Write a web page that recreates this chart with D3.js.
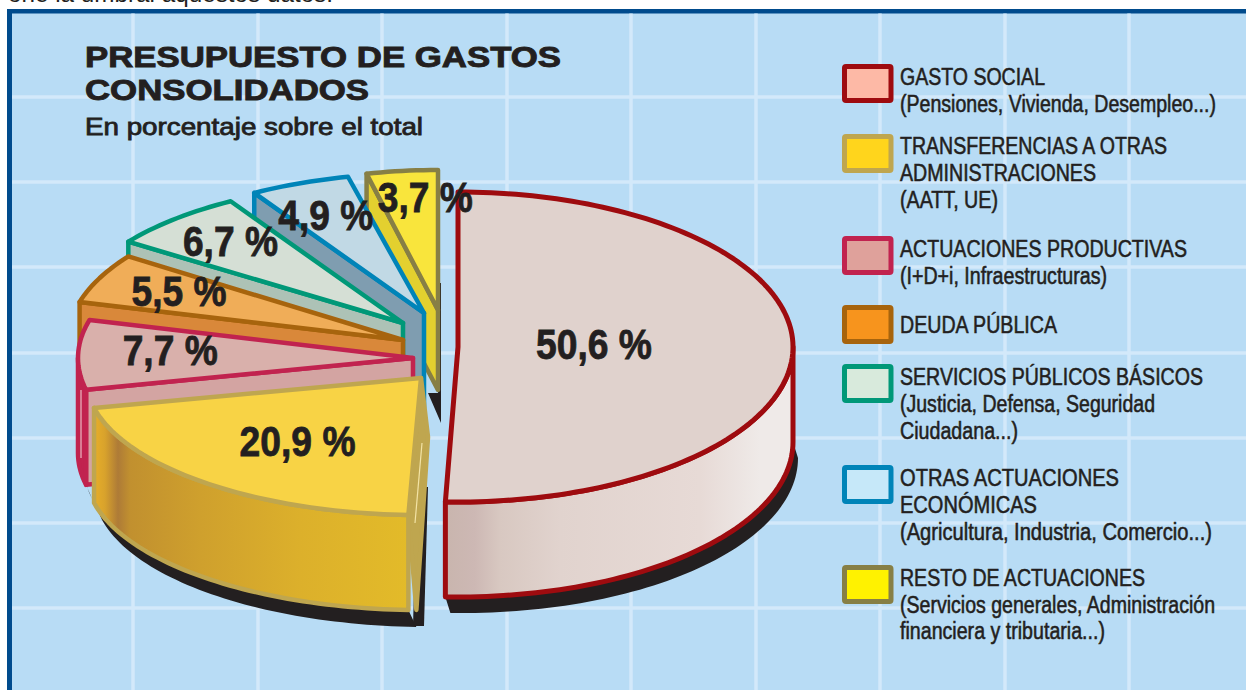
<!DOCTYPE html>
<html>
<head>
<meta charset="utf-8">
<style>
  html, body { margin: 0; padding: 0; background: #fff; overflow: hidden; }
  svg { display: block; }
  text { fill: #231f20; font-family: "Liberation Sans", Arial, sans-serif; }
</style>
<script src="https://cdn.jsdelivr.net/npm/d3@7"></script>
</head>
<body>
<svg id="chart" width="1246" height="690"></svg>
<script>
// slice values, clockwise from 12 o'clock
const categories = ["Gasto social", "Transferencias", "Actuaciones productivas", "Deuda pública",
    "Servicios públicos básicos", "Otras actuaciones económicas", "Resto de actuaciones"];
const values = [50.6, 20.9, 7.7, 5.5, 6.7, 4.9, 3.7];

const topFill = ["#e0d2cd", "#f8d345", "#d9b0ab", "#f0ad58", "#d5dfd5", "#c1d9e5", "#f9e53c"];
const cutFill = ["#e0d2cd", "#bfa64f", "#d3a4a2", "#d9883a", "#adc2b6", "#7f9db0", "#e3d02f"];
const wallFill = ["url(#wall0)", "url(#wall1)", "#c1234f", "#d9883a", "#adc2b6", "#7f9db0", "#e3d02f"];
const edgeColor = ["#9e0b0f", "#bfa64f", "#c1234f", "#a7640d", "#009878", "#0084b8", "#877f45"];
const legendFill = ["#fdb9a6", "#ffd51c", "#dfa19b", "#f7941d", "#d8eadc", "#c6e8f9", "#fff200"];

const legendLines = [
    ["GASTO SOCIAL", "(Pensiones, Vivienda, Desempleo...)"],
    ["TRANSFERENCIAS A OTRAS", "ADMINISTRACIONES", "(AATT, UE)"],
    ["ACTUACIONES PRODUCTIVAS", "(I+D+i, Infraestructuras)"],
    ["DEUDA PÚBLICA"],
    ["SERVICIOS PÚBLICOS BÁSICOS", "(Justicia, Defensa, Seguridad", "Ciudadana...)"],
    ["OTRAS ACTUACIONES", "ECONÓMICAS", "(Agricultura, Industria, Comercio...)"],
    ["RESTO DE ACTUACIONES", "(Servicios generales, Administración", "financiera y tributaria...)"]
];
const legendWidths = [[145, 316], [267, 196, 98], [287, 207], [157], [303, 255, 118], [219, 137, 312], [245, 315, 205]];
const legendBaselines = [[85, 112], [154, 181, 208], [257, 284], [333], [385, 412, 439], [486, 513, 540], [586, 613, 639]];
const legendBoxTop = [64, 134, 236, 305, 364, 465, 565];

// where each exploded slice sits
const apexX = [458, 421, 413, 403, 403, 424, 438];
const apexY = [347, 378, 358, 340, 323, 313, 310];
const radiusX = [335, 335, 335, 335, 335, 330, 310];
const radiusY = [155, 137, 146, 146, 142, 140, 140];
const depth = [95, 95, 95, 95, 95, 95, 80];
const edgeWidth = [5, 4.5, 4.5, 4.5, 4.5, 4.5, 4.5];

// label placement along each slice's middle angle
const labelRadius = [0.406, 0.59, 0.725, 0.738, 0.755, 0.766, 0.8];
const labelDx = [0, 3, 0, 0, 0, -3, 16];
const labelDy = [-4, 1, -6, -3, -4, 1, -2];
const labelWidth = [116, 116, 95, 95, 95, 95, 95];

const gridX = [133, 258, 382, 507, 631, 756, 880, 1005, 1129];
const gridY = [97, 182, 267, 353, 438, 523, 608];

const svg = d3.select("#chart");
const W = 1246, H = 690;

// backdrop
svg.append("rect").attr("x", 7).attr("y", 9).attr("width", W - 7).attr("height", H - 9).attr("fill", "#004b8d");
svg.append("rect").attr("x", 12).attr("y", 13.5).attr("width", W - 12).attr("height", H - 13.5).attr("fill", "#b8dcf5");
svg.selectAll(".gx").data(gridX).enter().append("line")
    .attr("x1", d => d).attr("x2", d => d).attr("y1", 13.5).attr("y2", H)
    .attr("stroke", "#d3e9fa").attr("stroke-width", 3.5);
svg.selectAll(".gy").data(gridY).enter().append("line")
    .attr("x1", 12).attr("x2", W).attr("y1", d => d).attr("y2", d => d)
    .attr("stroke", "#d3e9fa").attr("stroke-width", 3.5);

// clipped line of running text above the box
svg.append("text").attr("x", 8).attr("y", 2).attr("font-size", 23)
    .attr("textLength", 325).attr("lengthAdjust", "spacingAndGlyphs")
    .text("one la umbral aquestos datos.");

// banded gradients for the curved walls
const defs = svg.append("defs");
function addGradient(id, stops) {
    const g = defs.append("linearGradient").attr("id", id)
        .attr("gradientUnits", "userSpaceOnUse")
        .attr("x1", stops[0][0]).attr("x2", stops[stops.length - 1][0]).attr("y1", 0).attr("y2", 0);
    const x0 = stops[0][0], span = stops[stops.length - 1][0] - x0;
    stops.forEach(s => g.append("stop").attr("offset", (s[0] - x0) / span).attr("stop-color", s[1]));
}
addGradient("wall0", [[447, "#c9b5ae"], [475, "#cdb8b4"], [500, "#d8c8c1"], [560, "#e1d3ce"], [700, "#e7dad6"], [760, "#efeae8"], [795, "#efeae8"]]);
addGradient("wall1", [[97, "#e3ab2a"], [105, "#d8a22c"], [118, "#ae7b37"], [130, "#c1902f"], [200, "#cfa02d"], [300, "#dcb02b"], [410, "#e3bb29"]]);

const pie = d3.pie().sort(null).value(d => d).startAngle(0).endAngle(2 * Math.PI);
const arcs = pie(values);
const line = d3.line();

function point(i, a, r = 1, drop = 0) {
    return [apexX[i] + radiusX[i] * r * Math.sin(a), apexY[i] - radiusY[i] * r * Math.cos(a) + drop];
}
function arcPoints(i, a0, a1, drop = 0, dx = 0, dy = 0) {
    const n = Math.max(2, Math.ceil(Math.abs(a1 - a0) * 40));
    return d3.range(n + 1).map(k => {
        const p = point(i, a0 + (a1 - a0) * k / n, 1, drop);
        return [p[0] + dx, p[1] + dy];
    });
}
const HALF = Math.PI / 2;

function drawWallShadow(i, a0, a1, dx, dy) {
    const d = depth[i];
    const pts = arcPoints(i, a0, a1, d, dx, dy).concat(arcPoints(i, a1, a0, d));
    svg.append("path").attr("d", line(pts) + "Z").attr("fill", "#231f20");
}

// back to front, the big slice goes last
d3.range(values.length - 1, -1, -1).forEach(i => {
    const s = arcs[i];
    const apex = [apexX[i], apexY[i]];
    const d = depth[i];

    // shadows on the table
    if (i === 0) drawWallShadow(0, HALF, s.endAngle, 5, 16);
    if (i === 1) {
        drawWallShadow(1, s.startAngle, s.endAngle, 8, 17);
        svg.append("path").attr("fill", "#231f20").attr("d", line([
            [apex[0] + 7, apex[1] + 109], [apex[0] + 3, apex[1] + 248], [apex[0] - 8, apex[1] + 248], [apex[0] - 4, apex[1] + 109]
        ]) + "Z");
    }
    if (i === 2) drawWallShadow(2, s.startAngle, s.startAngle + 0.14, 6, 14);
    if (i === 6) {
        svg.append("path").attr("fill", "#231f20").attr("d", line([
            [apex[0] + 3, apex[1] - 27], [apex[0] + 3, apex[1] + 113], [apex[0] - 10, apex[1] + 83], [apex[0], apex[1] + 83], [apex[0], apex[1] - 27]
        ]) + "Z");
    }

    // radial cut face on the lower edge of the slice
    if (i > 0) {
        const corner = point(i, s.startAngle);
        let cut = [apex, corner, [corner[0], corner[1] + d], [apex[0], apex[1] + d]];
        if (i === 1) cut = [apex, corner, [corner[0] + 8, corner[1] + d], [apex[0] + 7, apex[1] + 59]];
        svg.append("path").attr("d", line(cut) + "Z")
            .attr("fill", cutFill[i]).attr("stroke", edgeColor[i]).attr("stroke-width", edgeWidth[i]).attr("stroke-linejoin", "round");
    }

    // curved wall, only the part facing us
    const w0 = Math.max(s.startAngle, HALF), w1 = Math.min(s.endAngle, 3 * HALF);
    if (w1 > w0) {
        const wall = arcPoints(i, w0, w1).concat(arcPoints(i, w1, w0, d));
        svg.append("path").attr("d", line(wall) + "Z")
            .attr("fill", wallFill[i])
            .attr("stroke", edgeColor[i]).attr("stroke-width", edgeWidth[i]).attr("stroke-linejoin", "round");
    }

    // top face
    const top = [apex].concat(arcPoints(i, s.startAngle, s.endAngle));
    svg.append("path").attr("d", line(top) + "Z")
        .attr("fill", topFill[i]).attr("stroke", edgeColor[i]).attr("stroke-width", edgeWidth[i]).attr("stroke-linejoin", "round");

    // thin light highlights on the pink wall and the yellow band
    if (i === 2) {
        svg.append("line").attr("stroke", "#f2d6d8").attr("stroke-width", 1)
            .attr("x1", apex[0] - 332).attr("x2", apex[0] - 332)
            .attr("y1", apex[1] + 32).attr("y2", apex[1] + 100);
    }
    if (i === 1) {
        svg.append("line").attr("stroke", "#f3e3a5").attr("stroke-width", 1.2)
            .attr("x1", apex[0] + 1).attr("x2", apex[0] - 6)
            .attr("y1", apex[1] + 65).attr("y2", apex[1] + 145);
    }
});

// percentage labels sit over everything
arcs.forEach((s, i) => {
    const p = point(i, (s.startAngle + s.endAngle) / 2, labelRadius[i]);
    svg.append("text")
        .attr("x", p[0] + labelDx[i] - labelWidth[i] / 2)
        .attr("y", p[1] + labelDy[i] + 15)
        .attr("font-size", 42).attr("font-weight", "bold")
        .attr("textLength", labelWidth[i]).attr("lengthAdjust", "spacingAndGlyphs")
        .attr("stroke", "#231f20").attr("stroke-width", 0.8)
        .text(`${String(s.data.toFixed(1)).replace(".", ",")} %`);
});

// title block
const titleLines = ["PRESUPUESTO DE GASTOS", "CONSOLIDADOS"];
svg.selectAll(".title").data(titleLines).enter().append("text")
    .attr("x", 85).attr("y", (d, i) => 67 + i * 33)
    .attr("font-size", 29).attr("font-weight", "bold")
    .attr("textLength", (d, i) => [476, 284][i]).attr("lengthAdjust", "spacingAndGlyphs")
    .attr("stroke", "#231f20").attr("stroke-width", 0.9)
    .text(d => d);
svg.append("text").attr("x", 85).attr("y", 135).attr("font-size", 23)
    .attr("textLength", 338).attr("lengthAdjust", "spacingAndGlyphs")
    .attr("stroke", "#231f20").attr("stroke-width", 0.8)
    .text("En porcentaje sobre el total");

// legend
legendLines.forEach((lines, i) => {
    svg.append("rect")
        .attr("x", 844.5).attr("y", legendBoxTop[i] + 2.5)
        .attr("width", 46.5).attr("height", 34).attr("rx", 1.5)
        .attr("fill", legendFill[i]).attr("stroke", edgeColor[i]).attr("stroke-width", 5);
    lines.forEach((t, j) => {
        svg.append("text").attr("x", 900).attr("y", legendBaselines[i][j])
            .attr("font-size", 23)
            .attr("textLength", legendWidths[i][j]).attr("lengthAdjust", "spacingAndGlyphs")
            .attr("stroke", "#231f20").attr("stroke-width", 0.55)
            .text(t);
    });
});
</script>
</body>
</html>
